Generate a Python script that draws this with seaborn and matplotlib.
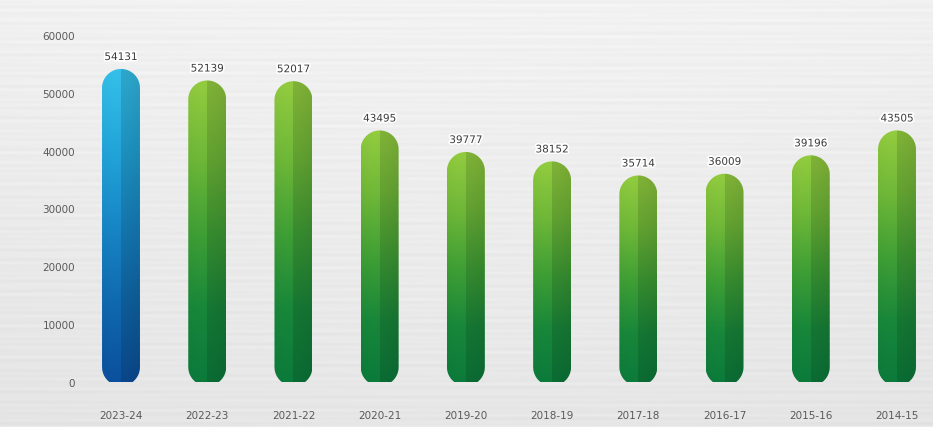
import numpy as np
import pandas as pd
import matplotlib
matplotlib.use("Agg")
import matplotlib.pyplot as plt
import seaborn as sns
from matplotlib.patches import Polygon
from matplotlib.colors import LinearSegmentedColormap
import matplotlib.patheffects as pe

# Annual totals by financial year (latest first)
years = ["2023-24", "2022-23", "2021-22", "2020-21", "2019-20",
         "2018-19", "2017-18", "2016-17", "2015-16", "2014-15"]
totals = [54131, 52139, 52017, 43495, 39777, 38152, 35714, 36009, 39196, 43505]
y_ticks = [0, 10000, 20000, 30000, 40000, 50000, 60000]

df = pd.DataFrame({"year": years, "total": totals})

sns.set_theme(style="white")
plt.rcParams["font.family"] = ["DejaVu Sans"]

W, H = 933, 439
fig = plt.figure(figsize=(W / 100, H / 100), dpi=100)

# brushed-metal style backdrop
bg = fig.add_axes([0, 0, 1, 1], zorder=0)
rows = np.linspace(0, 1, 440)[:, None]
cols = np.linspace(0, 1, 934)[None, :]
base = 0.95 - 0.05 * rows - 0.03 * (cols - 0.5) ** 2
streak = (0.010 * np.sin(rows * 310.0) * np.sin(cols * 7.0 + rows * 40.0)
          + 0.006 * np.sin(rows * 523.0 + 1.3))
shade = np.clip(base + streak, 0, 1)
bg.imshow(shade, cmap="gray", vmin=0, vmax=1, aspect="auto",
          extent=[0, 1, 0, 1], origin="upper")
bg.axhspan(0, 11 / H, color="white")
bg.set_xlim(0, 1)
bg.set_ylim(0, 1)
bg.axis("off")

ax_left, ax_right = 85 / W, 933 / W
ax_bottom, ax_top = (H - 383) / H, (H - 36) / H
ax = fig.add_axes([ax_left, ax_bottom, ax_right - ax_left, ax_top - ax_bottom],
                  zorder=1)
ax.patch.set_alpha(0)

bar_w = 0.44
sns.barplot(data=df, x="year", y="total", ax=ax, width=bar_w,
            color="#3a9a3a", saturation=1)

unit_px = (897 - 121) / 9.0
x_lo = -(121 - 85) / unit_px
x_hi = 9 + (933 - 897) / unit_px
ax.set_xlim(x_lo, x_hi)
ax.set_ylim(0, 60000)

# data units per pixel along each axis
ax_w_px = (ax_right - ax_left) * W
ax_h_px = (ax_top - ax_bottom) * H
x_per_px = (x_hi - x_lo) / ax_w_px
y_per_px = 60000 / ax_h_px

green_cmap = LinearSegmentedColormap.from_list(
    "g", ["#0b7a3b", "#18873a", "#3f9f35", "#6fb838", "#93cc3f"])
blue_cmap = LinearSegmentedColormap.from_list(
    "b", ["#0b4f9c", "#0f68ad", "#1786c6", "#22a6da", "#35c0ea"])


def pill_outline(x0, w, bottom, top):
    """Capsule outline in data coordinates with semicircular ends."""
    xc = x0 + w / 2
    rx = w / 2
    ry = rx / x_per_px * y_per_px
    t_top = np.linspace(0, np.pi, 40)
    t_bot = np.linspace(np.pi, 2 * np.pi, 40)
    top_arc = np.column_stack([xc + rx * np.cos(t_top),
                               top - ry + ry * np.sin(t_top)])
    bot_arc = np.column_stack([xc + rx * np.cos(t_bot),
                               bottom + ry + ry * np.sin(t_bot)])
    return np.vstack([top_arc, bot_arc])


bottom_ext = -4 * y_per_px
for i, patch in enumerate(list(ax.patches)):
    x0 = patch.get_x()
    w = patch.get_width()
    top = patch.get_height()
    patch.set_visible(False)
    cmap = blue_cmap if i == 0 else green_cmap

    # vertical gradient with a darker right half for a rounded 3-D look
    ny, nx = 200, 40
    v = np.linspace(0, 1, ny)[:, None] * np.ones((1, nx))
    img = cmap(v)
    xs = np.linspace(0, 1, nx)[None, :]
    side = np.where(xs > 0.5, 0.88, 1.0) * (1 - 0.10 * (np.abs(xs - 0.35) ** 1.5))
    img[..., :3] *= side[..., None]

    pill = Polygon(pill_outline(x0, w, bottom_ext, top), closed=True,
                   transform=ax.transData, facecolor="none", edgecolor="none")
    ax.add_patch(pill)
    pill.set_clip_on(False)
    im = ax.imshow(img, extent=[x0, x0 + w, bottom_ext, top], origin="lower",
                   aspect="auto", zorder=2)
    im.set_clip_on(True)
    im.set_clip_path(pill)
    im.set_clip_box(None)

    ax.annotate(f"{totals[i]}", (x0 + w / 2, top), xytext=(0, 5),
                textcoords="offset points", ha="center", va="bottom",
                fontsize=7.5, color="#3c3c3c", zorder=5,
                path_effects=[pe.withStroke(linewidth=2.5, foreground="white")])

ax.set_xlim(x_lo, x_hi)
ax.set_ylim(0, 60000)
ax.set_yticks(y_ticks)
ax.set_yticklabels([str(t) for t in y_ticks])
ax.set_xlabel("")
ax.set_ylabel("")
ax.tick_params(axis="both", length=0, labelsize=7.5, labelcolor="#5a5a5a")
ax.tick_params(axis="y", pad=7)
ax.tick_params(axis="x", pad=20)
for s in ax.spines.values():
    s.set_visible(False)

fig.savefig("out.png", dpi=100)
